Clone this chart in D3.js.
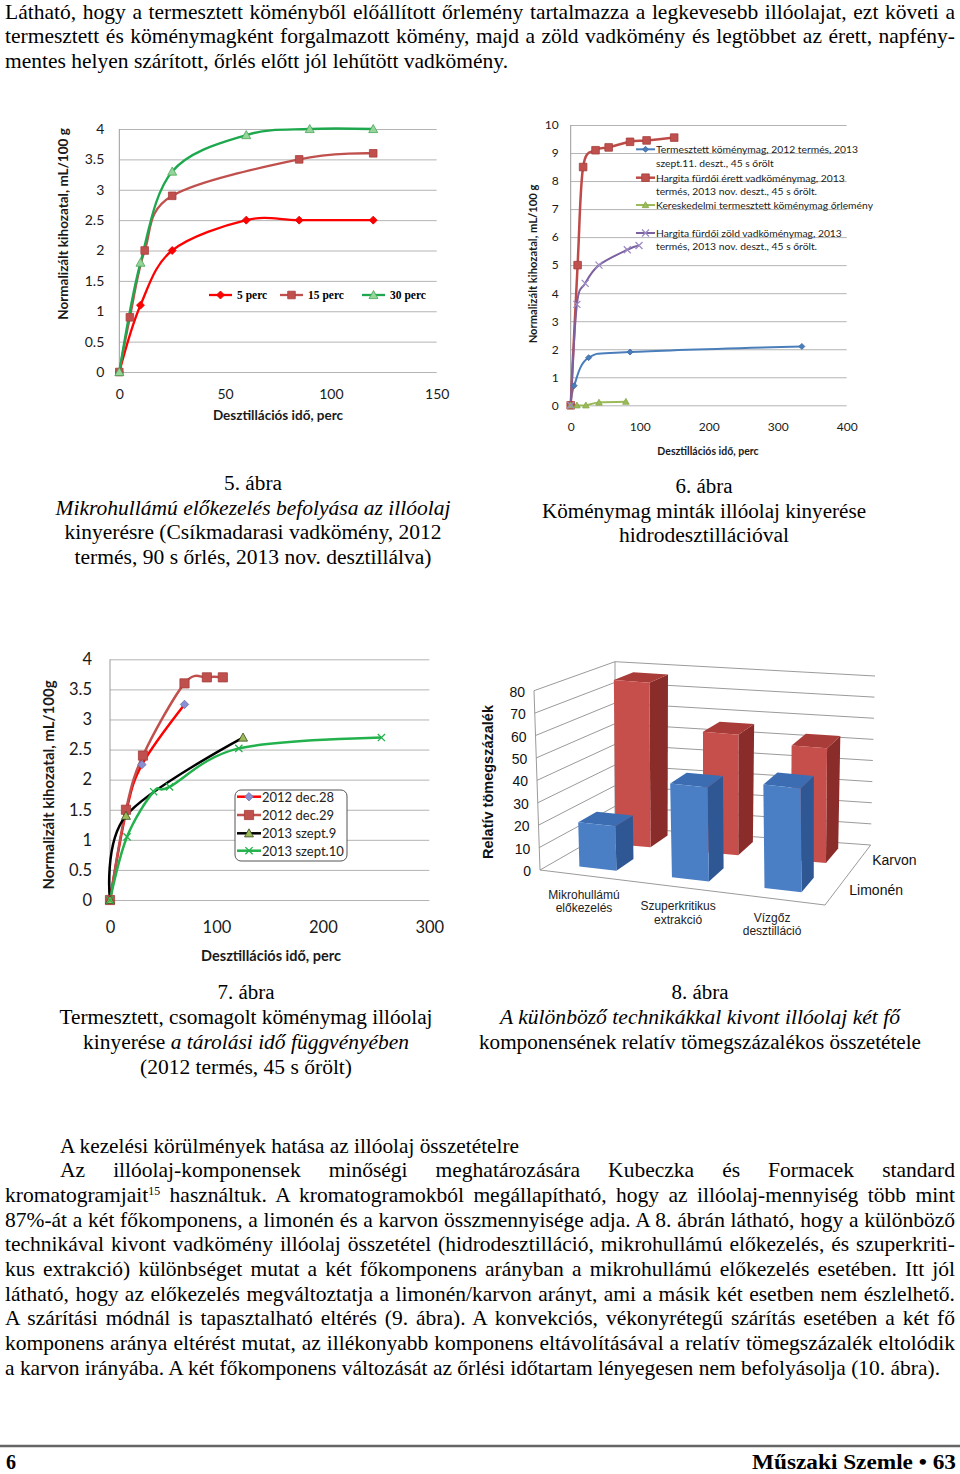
<!DOCTYPE html>
<html><head><meta charset="utf-8">
<script src="https://cdn.jsdelivr.net/npm/d3@7/dist/d3.min.js"></script>
<style>html,body{margin:0;padding:0;background:#fff}svg{display:block}</style>
</head><body>
<svg id="page" width="960" height="1474" xmlns="http://www.w3.org/2000/svg"></svg>
<script>
// ================= DATA =================
// Figure 5
const f5Series = ["5 perc", "15 perc", "30 perc"];
const f5Perc5  = [[0,0],[10,1.1],[25,2.0],[60,2.5],[85,2.5],[120,2.5]];
const f5Perc15 = [[0,0],[5,0.9],[12,2.0],[25,2.9],[85,3.5],[120,3.6]];
const f5Perc30 = [[0,0],[10,1.8],[25,3.3],[60,3.9],[90,4.0],[120,4.0]];
const f5XTicks = [0,50,100,150];
const f5YTicks = [0,0.5,1,1.5,2,2.5,3,3.5,4];

// Figure 6
const f6Series = [
  ["Termesztett köménymag, 2012 termés, 2013","szept.11. deszt., 45 s őrölt"],
  [" Hargita fürdői érett vadköménymag, 2013","termés, 2013 nov. deszt., 45 s őrölt."],
  ["Kereskedelmi termesztett köménymag őrlemény"],
  ["Hargita fürdői zöld vadköménymag, 2013","termés, 2013 nov. deszt., 45 s őrölt."]
];
const f6Termesztett   = [[0,0],[5,0.7],[26,1.7],[86,1.9],[335,2.1]];
const f6Erett         = [[0,0],[10,5.0],[18,8.5],[36,9.1],[55,9.2],[86,9.4],[110,9.45],[150,9.55]];
const f6Kereskedelmi  = [[0,0],[9,0],[22,0],[41,0.1],[80,0.13]];
const f6Zold          = [[0,0],[9,3.6],[21,4.35],[41,5.0],[82,5.55],[99,5.7]];
const f6XTicks = [0,100,200,300,400];
const f6YTicks = [0,1,2,3,4,5,6,7,8,9,10];

// Figure 7
const f7Series = ["2012 dec.28","2012 dec.29","2013 szept.9","2013 szept.10"];
const f7Dec28   = [[0,0],[15,1.45],[30,2.25],[70,3.25]];
const f7Dec29   = [[0,0],[15,1.5],[31,2.4],[70,3.6],[91,3.7],[106,3.7]];
const f7Szept9  = [[0,0],[15,1.4],[125,2.7]];
const f7Szept10 = [[0,0],[16,1.05],[41,1.8],[56,1.88],[121,2.52],[255,2.7]];
const f7XTicks = [0,100,200,300];
const f7YTicks = [0,0.5,1,1.5,2,2.5,3,3.5,4];

// Figure 8
const f8Categories = ["Mikrohullámú előkezelés","Szuperkritikus extrakció","Vízgőz desztilláció"];
const f8CategoryLines = [["Mikrohullámú","előkezelés"],["Szuperkritikus","extrakció"],["Vízgőz","desztilláció"]];
const f8Series = ["Limonén","Karvon"];
const f8Limonen = [20,42,46];
const f8Karvon  = [77,56,53];
const f8Ticks = [0,10,20,30,40,50,60,70,80];

// Text
const topLines = [
  "Látható, hogy a termesztett köményből előállított őrlemény tartalmazza a legkevesebb illóolajat, ezt követi a",
  "termesztett és köménymagként forgalmazott kömény, majd a zöld vadkömény és legtöbbet az érett, napfény-",
  "mentes helyen szárított, őrlés előtt jól lehűtött vadkömény."
];
const bottomHeading = "A kezelési körülmények hatása az illóolaj összetételre";
const bottomLines = [
  [{t:"Az illóolaj-komponensek minőségi meghatározására Kubeczka és Formacek standard"}],
  [{t:"kromatogramjait"},{t:"15",sup:true},{t:" használtuk. A kromatogramokból megállapítható, hogy az illóolaj-mennyiség több mint"}],
  [{t:"87%-át a két főkomponens, a limonén és a karvon összmennyisége adja. A 8. ábrán látható, hogy a különböző"}],
  [{t:"technikával kivont vadkömény illóolaj összetétel (hidrodesztilláció, mikrohullámú előkezelés, és szuperkriti-"}],
  [{t:"kus extrakció) különbséget mutat a két főkomponens arányban a mikrohullámú előkezelés esetében. Itt jól"}],
  [{t:"látható, hogy az előkezelés megváltoztatja a limonén/karvon arányt, ami a másik két esetben nem észlelhető."}],
  [{t:"A szárítási módnál is tapasztalható eltérés (9. ábra). A konvekciós, vékonyrétegű szárítás esetében a két fő"}],
  [{t:"komponens aránya eltérést mutat, az illékonyabb komponens eltávolításával a relatív tömegszázalék eltolódik"}],
  [{t:"a karvon irányába. A két főkomponens változását az őrlési időtartam lényegesen nem befolyásolja (10. ábra)."}]
];
const captions = [
  {x:253, lines:[
    {parts:[{t:"5. ábra"}], y:489.5, w:58},
    {parts:[{t:"Mikrohullámú előkezelés befolyása az illóolaj",italic:true}], y:514.5, w:395},
    {parts:[{t:"kinyerésre (Csíkmadarasi vadkömény, 2012"}], y:538.5, w:377},
    {parts:[{t:"termés, 90 s őrlés, 2013 nov. desztillálva)"}], y:563.5, w:357}]},
  {x:704, lines:[
    {parts:[{t:"6. ábra"}], y:492.5, w:57},
    {parts:[{t:"Köménymag minták illóolaj kinyerése"}], y:517.5, w:324},
    {parts:[{t:"hidrodesztillációval"}], y:541.5, w:170}]},
  {x:246, lines:[
    {parts:[{t:"7. ábra"}], y:998.5, w:57},
    {parts:[{t:"Termesztett, csomagolt köménymag illóolaj"}], y:1023.5, w:373},
    {parts:[{t:"kinyerése "},{t:"a tárolási idő függvényében",italic:true}], y:1048.5, w:326},
    {parts:[{t:"(2012 termés, 45 s őrölt)"}], y:1073.5, w:212}]},
  {x:700, lines:[
    {parts:[{t:"8. ábra"}], y:998.5, w:57},
    {parts:[{t:"A különböző technikákkal kivont illóolaj két fő",italic:true}], y:1023.5, w:400},
    {parts:[{t:"komponensének relatív tömegszázalékos összetétele"}], y:1048.5, w:442}]}
];

// ================= HELPERS =================
const SERIF = "'Liberation Serif','Times New Roman',Times,serif";
const CAL = "Lato,'Open Sans',sans-serif";
const ARIAL = "'Liberation Sans',Arial,sans-serif";
const svg = d3.select("#page");

function textLine(g, cfg) {
  const t = g.append("text").attr("x", cfg.x).attr("y", cfg.y)
    .attr("font-family", SERIF).attr("font-size", cfg.size)
    .attr("font-weight", cfg.weight || "normal")
    .attr("text-anchor", cfg.anchor || "start").attr("fill", "#000");
  cfg.parts.forEach(p => {
    const ts = t.append("tspan").text(p.t);
    if (p.italic) ts.attr("font-style", "italic");
    if (p.sup) ts.attr("baseline-shift", "super").attr("font-size", cfg.size * 0.55);
  });
  if (cfg.w) {
    const len = t.node().getComputedTextLength();
    const spaces = (t.text().match(/ /g) || []).length;
    if (len > cfg.w || !cfg.justify) t.attr("textLength", cfg.w).attr("lengthAdjust", "spacingAndGlyphs");
    else if (spaces > 0) t.style("word-spacing", ((cfg.w - len) / spaces) + "px");
  }
  return t;
}

function markerPath(type, s) {
  if (type === "diamond") return `M0,${-s}L${s},0L0,${s}L${-s},0Z`;
  if (type === "square") return `M${-s},${-s}H${s}V${s}H${-s}Z`;
  if (type === "triangle") return `M0,${-s}L${s},${s*0.8}L${-s},${s*0.8}Z`;
  if (type === "x") return `M${-s},${-s}L${s},${s}M${-s},${s}L${s},${-s}`;
}

function lineChart(g, o) {
  const x = d3.scaleLinear().domain(o.xDomain).range(o.xRange);
  const y = d3.scaleLinear().domain(o.yDomain).range(o.yRange);
  const w = o.xRange[1] - o.xRange[0];
  g.append("g").attr("transform", `translate(${o.xRange[0]},0)`)
    .call(d3.axisLeft(y).tickValues(o.yTicks).tickSize(-w).tickFormat(""))
    .call(a => a.select(".domain").remove())
    .call(a => a.selectAll("line").attr("stroke", "#b4b4b4").attr("stroke-width", 1));
  g.append("line").attr("x1", x(0)).attr("x2", x(0)).attr("y1", o.yRange[0]).attr("y2", o.yRange[1])
    .attr("stroke", "#9a9a9a").attr("stroke-width", 1);
  g.append("g").attr("transform", `translate(${o.xRange[0]},0)`)
    .call(d3.axisLeft(y).tickValues(o.yTicks).tickSize(0).tickPadding(o.yPad).tickFormat(d => String(d)))
    .call(a => a.select(".domain").remove())
    .attr("font-family", CAL).attr("font-size", o.tickSize)
    .call(a => a.selectAll("text").attr("fill", "#1a1a1a"));
  g.append("g").attr("transform", `translate(0,${o.yRange[0]})`)
    .call(d3.axisBottom(x).tickValues(o.xTicks).tickSize(0).tickPadding(o.xPad).tickFormat(d => String(d)))
    .call(a => a.select(".domain").remove())
    .attr("font-family", CAL).attr("font-size", o.tickSize)
    .call(a => a.selectAll("text").attr("fill", "#1a1a1a"));
  g.append("text").attr("x", o.xTitle[0]).attr("y", o.xTitle[1]).attr("text-anchor", "middle")
    .attr("dominant-baseline", "central").attr("font-family", CAL).attr("font-weight", "bold")
    .attr("font-size", o.xTitleSize).attr("fill", "#1a1a1a").text("Desztillációs idő, perc");
  g.append("text").attr("transform", `translate(${o.yTitle[0]},${o.yTitle[1]}) rotate(-90)`)
    .attr("text-anchor", "middle").attr("dominant-baseline", "central").attr("font-family", CAL)
    .attr("font-weight", "bold").attr("font-size", o.yTitleSize).attr("fill", "#1a1a1a").text(o.yTitleText);
  const line = d3.line().x(d => x(d[0])).y(d => y(d[1])).curve(d3.curveCatmullRom.alpha(0));
  o.series.forEach(s => {
    g.append("path").attr("d", line(s.data)).attr("fill", "none").attr("stroke", s.color)
      .attr("stroke-width", s.width).attr("stroke-linejoin", "round");
  });
  o.series.forEach(s => {
    g.append("g").selectAll("path").data(s.data).join("path")
      .attr("transform", d => `translate(${x(d[0])},${y(d[1])})`)
      .attr("d", markerPath(s.marker, s.size))
      .attr("fill", s.marker === "x" ? "none" : s.mfill)
      .attr("stroke", s.mstroke).attr("stroke-width", s.marker === "x" ? 1.3 : 0.8);
  });
  return {x, y};
}

function legendSwatch(g, s, x0, x1, yc) {
  g.append("line").attr("x1", x0).attr("x2", x1).attr("y1", yc).attr("y2", yc)
    .attr("stroke", s.color).attr("stroke-width", s.width);
  g.append("path").attr("transform", `translate(${(x0+x1)/2},${yc})`)
    .attr("d", markerPath(s.marker, s.size))
    .attr("fill", s.marker === "x" ? "none" : s.mfill)
    .attr("stroke", s.mstroke).attr("stroke-width", s.marker === "x" ? 1.3 : 0.8);
}

// ================= BODY TEXT =================
const tg = svg.append("g");
const topY = [18.5, 43, 67.5], topW = [950, 950, 503];
topLines.forEach((t, i) => textLine(tg, {parts:[{t}], x:5, y:topY[i], w:topW[i], size:21.5, justify:i < 2}));

captions.forEach(c => c.lines.forEach(l =>
  textLine(tg, {parts:l.parts, x:c.x, y:l.y, w:l.w, size:20, anchor:"middle"})));

textLine(tg, {parts:[{t:bottomHeading}], x:60, y:1152.5, w:459, size:21});
const bY = [1176.5,1201.5,1226.5,1251,1275.5,1300.5,1325,1349.5,1374.5];
bottomLines.forEach((parts, i) => {
  const first = i === 0, last = i === bottomLines.length - 1;
  textLine(tg, {parts, x:first ? 60 : 5, y:bY[i], w:first ? 895 : (last ? 935 : 950), size:21.5, justify:!last});
});
tg.append("line").attr("x1", 0).attr("x2", 960).attr("y1", 1446).attr("y2", 1446)
  .attr("stroke", "#666").attr("stroke-width", 2.5);
textLine(tg, {parts:[{t:"6"}], x:6, y:1469, size:20, weight:"bold"});
textLine(tg, {parts:[{t:"Műszaki Szemle • 63"}], x:956, y:1469, size:20, weight:"bold", anchor:"end", w:204});

// ================= FIGURE 5 =================
const g5 = svg.append("g");
const s5 = [
  {data:f5Perc5,  color:"#ff0000", width:2.3, marker:"diamond",  size:4,   mfill:"#ff0000", mstroke:"#e00000"},
  {data:f5Perc15, color:"#c0504d", width:2.3, marker:"square",   size:3.8, mfill:"#c0504d", mstroke:"#a8403d"},
  {data:f5Perc30, color:"#1da84e", width:2.3, marker:"triangle", size:4.5, mfill:"#94d59a", mstroke:"#4aa556"}
];
lineChart(g5, {xDomain:[0,150], xRange:[119.3,436.7], yDomain:[0,4], yRange:[372,129],
  xTicks:f5XTicks, yTicks:f5YTicks, tickSize:14, xPad:17, yPad:15,
  xTitle:[278,415], xTitleSize:13.5, yTitle:[63,224], yTitleSize:13.5,
  yTitleText:"Normalizált kihozatal, mL/100 g", series:s5});
const l5x = [209, 280, 362];
s5.forEach((s, i) => {
  legendSwatch(g5, s, l5x[i], l5x[i] + 23, 295);
  g5.append("text").attr("x", l5x[i] + 28).attr("y", 295).attr("dominant-baseline", "central")
    .attr("font-family", SERIF).attr("font-weight", "bold").attr("font-size", 11.5).text(f5Series[i]);
});

// ================= FIGURE 6 =================
const g6 = svg.append("g");
const s6 = [
  {data:f6Termesztett,  color:"#4a7ebb", width:2,   marker:"diamond",  size:3,   mfill:"#4a7ebb", mstroke:"#3d6aa3"},
  {data:f6Erett,        color:"#be4b48", width:2.5, marker:"square",   size:3.8, mfill:"#c0504d", mstroke:"#a33f3c"},
  {data:f6Kereskedelmi, color:"#9bbb59", width:2,   marker:"triangle", size:3.3, mfill:"#9bbb59", mstroke:"#87a84a"},
  {data:f6Zold,         color:"#7d60a0", width:2,   marker:"x",        size:3.5, mfill:"none",    mstroke:"#9d8bc4"}
];
lineChart(g6, {xDomain:[0,400], xRange:[570.7,846.7], yDomain:[0,10], yRange:[405.3,125],
  xTicks:f6XTicks, yTicks:f6YTicks, tickSize:12, xPad:17, yPad:12,
  xTitle:[708,451], xTitleSize:10.5, yTitle:[532,264], yTitleSize:11.2,
  yTitleText:"Normalizált kihozatal, mL/100 g", series:s6});
const l6y = [[149.3,162.7],[177.7,191],[205],[233,246]];
s6.forEach((s, i) => {
  legendSwatch(g6, s, 636, 655, l6y[i][0]);
  f6Series[i].forEach((txt, j) => {
    g6.append("text").attr("x", 656).attr("y", l6y[i][j]).attr("dominant-baseline", "central")
      .attr("font-family", CAL).attr("font-size", 10.3).attr("fill", "#222").text(txt);
  });
});

// ================= FIGURE 7 =================
const g7 = svg.append("g");
const s7 = [
  {data:f7Dec28,   color:"#ff0000", width:2.5, marker:"diamond",  size:4.2, mfill:"#8a8fd0", mstroke:"#6b70b0"},
  {data:f7Dec29,   color:"#c0504d", width:2.5, marker:"square",   size:4.6, mfill:"#c0504d", mstroke:"#a33f3c"},
  {data:f7Szept9,  color:"#000000", width:2.5, marker:"triangle", size:4.5, mfill:"#9bbb59", mstroke:"#3b4a22"},
  {data:f7Szept10, color:"#22b14c", width:2.5, marker:"x",        size:3.6, mfill:"none",    mstroke:"#22b14c"}
];
lineChart(g7, {xDomain:[0,300], xRange:[110,429.3], yDomain:[0,4], yRange:[900,659.3],
  xTicks:f7XTicks, yTicks:f7YTicks, tickSize:16.5, xPad:21, yPad:18,
  xTitle:[271,955], xTitleSize:14.5, yTitle:[48,785], yTitleSize:15,
  yTitleText:"Normalizált kihozatal, mL/100g", series:s7});
g7.append("rect").attr("x", 235).attr("y", 790).attr("width", 112).attr("height", 71).attr("rx", 6)
  .attr("fill", "#fff").attr("stroke", "#555").attr("stroke-width", 1);
const l7y = [796.7, 815, 833.3, 850.7];
s7.forEach((s, i) => {
  legendSwatch(g7, s, 237, 261, l7y[i]);
  g7.append("text").attr("x", 262).attr("y", l7y[i]).attr("dominant-baseline", "central")
    .attr("font-family", CAL).attr("font-size", 13).attr("fill", "#222").text(f7Series[i]);
});

// ================= FIGURE 8 (3-D columns) =================
const g8 = svg.append("g");
const floorQ = {FL:[540,870], FR:[825,905], BL:[615,827], BR:[870.7,845]};
const ceilQ  = {FL:[534,690.7], FR:[823,722], BL:[615,661.7], BR:[875,676]};
function bil(q, u, w) {
  const a = (1-u)*(1-w), b = u*(1-w), c = (1-u)*w, d = u*w;
  return [a*q.FL[0]+b*q.FR[0]+c*q.BL[0]+d*q.BR[0], a*q.FL[1]+b*q.FR[1]+c*q.BL[1]+d*q.BR[1]];
}
function P(u, w, t) {
  const f = bil(floorQ, u, w), c = bil(ceilQ, u, w);
  return [f[0] + (c[0]-f[0])*t, f[1] + (c[1]-f[1])*t];
}
const uS = d3.scaleBand().domain(f8Categories).range([0,0.99]).paddingInner(0.6).paddingOuter(0.3);
const wS = d3.scaleBand().domain(f8Series).range([0.03,1.03]).paddingInner(0.5).paddingOuter(0.25);
const vS = d3.scaleLinear().domain([0,80]).range([0,1]);
const poly = pts => "M" + pts.map(p => p.join(",")).join("L") + "Z";

const gridC = "#8e8e8e";
f8Ticks.forEach(v => {
  const t = vS(v);
  g8.append("path").attr("d", "M" + [P(0,0,t), P(0,1,t), P(1,1,t)].map(p => p.join(",")).join("L"))
    .attr("fill", "none").attr("stroke", gridC).attr("stroke-width", 0.9);
});
[[0,0],[0,1]].forEach(([u,w]) => {
  const a = P(u,w,0), b = P(u,w,1);
  g8.append("line").attr("x1", a[0]).attr("y1", a[1]).attr("x2", b[0]).attr("y2", b[1])
    .attr("stroke", gridC).attr("stroke-width", 0.9);
});
g8.append("path").attr("d", "M" + [P(0,0,0), P(1,0,0), P(1,1,0)].map(p => p.join(",")).join("L"))
  .attr("fill", "none").attr("stroke", gridC).attr("stroke-width", 0.9);

const palette = {
  "Limonén": {front:"#4a7fc5", top:"#3c6db2", side:"#2e5794"},
  "Karvon":  {front:"#c64f4b", top:"#a93c38", side:"#8a2c29"}
};
const seriesVals = {"Limonén": f8Limonen, "Karvon": f8Karvon};
["Karvon","Limonén"].forEach(ser => {
  const w0 = wS(ser), w1 = w0 + wS.bandwidth();
  const col = palette[ser];
  f8Categories.forEach((cat, i) => {
    const u0 = uS(cat), u1 = u0 + uS.bandwidth(), t = vS(seriesVals[ser][i]);
    const bar = g8.append("g");
    bar.append("path").attr("d", poly([P(u1,w0,0), P(u1,w1,0), P(u1,w1,t), P(u1,w0,t)])).attr("fill", col.side);
    bar.append("path").attr("d", poly([P(u0,w0,t), P(u1,w0,t), P(u1,w1,t), P(u0,w1,t)])).attr("fill", col.top);
    bar.append("path").attr("d", poly([P(u0,w0,0), P(u1,w0,0), P(u1,w0,t), P(u0,w0,t)])).attr("fill", col.front);
  });
});

f8Ticks.forEach(v => {
  const p = P(0,0,vS(v));
  g8.append("text").attr("x", p[0] - 9).attr("y", p[1] + 1).attr("text-anchor", "end")
    .attr("dominant-baseline", "central").attr("font-family", ARIAL).attr("font-size", 14)
    .attr("fill", "#111").text(v);
});
f8Categories.forEach((cat, i) => {
  const p = P(uS(cat) + uS.bandwidth()/2, 0, 0);
  f8CategoryLines[i].forEach((txt, j) => {
    g8.append("text").attr("x", p[0] - 3).attr("y", p[1] + 19 + j*13.3).attr("text-anchor", "middle")
      .attr("dominant-baseline", "central").attr("font-family", ARIAL).attr("font-size", 12)
      .attr("fill", "#222").text(txt);
  });
});
f8Series.forEach(ser => {
  const p = P(1, wS(ser) + wS.bandwidth()/2, 0);
  g8.append("text").attr("x", p[0] + 11.5).attr("y", p[1] + 1.5).attr("dominant-baseline", "central")
    .attr("font-family", ARIAL).attr("font-size", 14).attr("fill", "#111").text(ser);
});
g8.append("text").attr("transform", "translate(488,782) rotate(-90)").attr("text-anchor", "middle")
  .attr("dominant-baseline", "central").attr("font-family", ARIAL).attr("font-weight", "bold")
  .attr("font-size", 14.5).attr("fill", "#111").text("Relatív tömegszázalék");
</script>
</body></html>
